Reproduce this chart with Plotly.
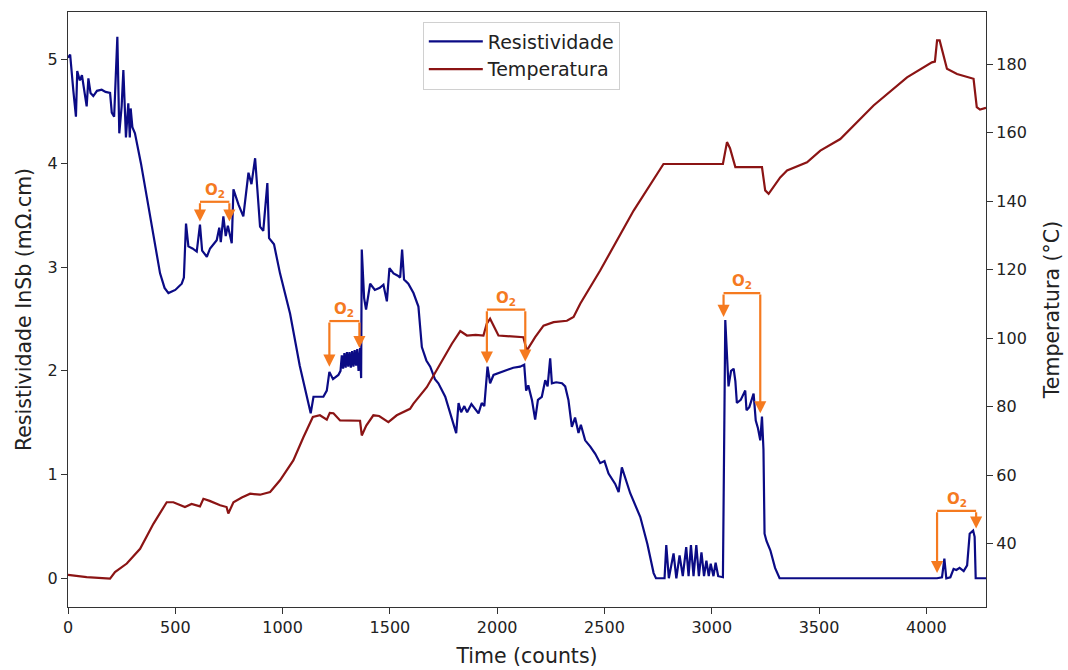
import plotly.graph_objects as go

# ---------------- data ----------------
res_time = [0, 10, 25, 37, 43, 55, 65, 75, 87, 95, 105, 118, 135, 157, 175, 196, 204, 215, 230, 239,
            250, 258, 270, 281, 288, 292, 300, 312, 340, 367, 400, 429, 450, 468, 500, 530, 540, 550,
            561, 580, 600, 615, 625, 647, 662, 693, 705, 712, 724, 735, 745, 763, 771, 795, 817, 841,
            855, 872, 895, 910, 929, 937, 960, 988, 1035, 1080, 1131, 1144, 1190, 1206, 1218, 1235,
            1260, 1270, 1276, 1282, 1288, 1294, 1300, 1306, 1312, 1318, 1324, 1330, 1336, 1342, 1348,
            1354, 1361, 1366, 1369, 1380, 1389, 1408, 1430, 1453, 1470, 1486, 1498, 1517, 1535, 1548,
            1557, 1566, 1586, 1610, 1633, 1649, 1670, 1688, 1710, 1726, 1758, 1789, 1809, 1820, 1832,
            1847, 1860, 1880, 1900, 1913, 1928, 1940, 1955, 1967, 1983, 2010, 2045, 2075, 2107, 2126,
            2135, 2145, 2162, 2177, 2190, 2208, 2224, 2235, 2247, 2255, 2275, 2302, 2317, 2332, 2348,
            2363, 2379, 2390, 2410, 2434, 2457, 2480, 2500, 2519, 2550, 2566, 2581, 2600, 2620, 2667,
            2700, 2729, 2740, 2780, 2788, 2800, 2822, 2835, 2850, 2865, 2881, 2892, 2903, 2915, 2928,
            2940, 2952, 2964, 2975, 2986, 2995, 3008, 3018, 3030, 3047, 3052, 3063, 3070, 3078, 3090,
            3102, 3110, 3117, 3135, 3156, 3162, 3175, 3195, 3205, 3215, 3226, 3234, 3241, 3246, 3255,
            3273, 3295, 3316, 4050, 4073, 4084, 4093, 4112, 4127, 4140, 4155, 4174, 4190, 4202, 4218,
            4225, 4230, 4278]
resistividade = [5.02, 5.05, 4.70, 4.45, 4.89, 4.80, 4.85, 4.70, 4.55, 4.82, 4.68, 4.65, 4.70, 4.71,
                 4.69, 4.68, 4.49, 4.45, 5.22, 4.29, 4.55, 4.90, 4.25, 4.58, 4.25, 4.53, 4.35, 4.29,
                 4.00, 3.68, 3.30, 2.94, 2.80, 2.75, 2.78, 2.84, 2.90, 3.42, 3.20, 3.18, 3.15, 3.41,
                 3.16, 3.10, 3.18, 3.26, 3.38, 3.24, 3.49, 3.30, 3.40, 3.23, 3.75, 3.60, 3.49, 3.91,
                 3.80, 4.05, 3.39, 3.35, 3.81, 3.28, 3.22, 2.94, 2.55, 2.05, 1.59, 1.75, 1.75, 1.81,
                 1.99, 1.92, 1.96, 2.00, 2.15, 2.02, 2.17, 2.03, 2.18, 2.04, 2.18, 2.03, 2.19, 2.04,
                 2.20, 2.05, 2.21, 2.00, 2.22, 1.93, 3.17, 2.70, 2.59, 2.84, 2.78, 2.80, 2.83, 2.67,
                 2.99, 2.94, 2.92, 2.90, 3.17, 2.88, 2.84, 2.75, 2.62, 2.23, 2.10, 2.04, 1.92, 1.88,
                 1.75, 1.53, 1.40, 1.69, 1.60, 1.66, 1.60, 1.68, 1.62, 1.59, 1.69, 1.66, 2.04, 1.88,
                 1.96, 1.98, 2.01, 2.03, 2.04, 2.06, 1.81, 1.86, 1.72, 1.53, 1.72, 1.75, 1.91, 1.85,
                 2.12, 1.88, 1.89, 1.88, 1.85, 1.72, 1.46, 1.55, 1.40, 1.48, 1.33, 1.27, 1.20, 1.11,
                 1.13, 1.01, 0.91, 0.83, 1.07, 0.95, 0.82, 0.59, 0.33, 0.05, 0.00, 0.00, 0.32, 0.00,
                 0.24, 0.00, 0.22, 0.02, 0.30, 0.02, 0.32, 0.02, 0.32, 0.02, 0.25, 0.02, 0.17, 0.02,
                 0.14, 0.02, 0.15, 0.02, 0.01, 0.01, 2.49, 2.20, 1.85, 2.00, 2.02, 1.90, 1.69, 1.72,
                 1.81, 1.62, 1.65, 1.78, 1.52, 1.45, 1.33, 1.56, 1.24, 0.43, 0.36, 0.27, 0.10, 0.00,
                 0.00, 0.01, 0.19, 0.00, 0.01, 0.09, 0.08, 0.10, 0.07, 0.125, 0.43, 0.46, 0.40, 0.00,
                 0.00]

temp_time = [0, 87, 196, 219, 274, 336, 398, 460, 491, 545, 576, 615, 631, 660, 709, 739, 747, 771,
             810, 849, 895, 942, 988, 1050, 1097, 1141, 1174, 1206, 1220, 1237, 1268, 1361, 1369,
             1390, 1423, 1450, 1493, 1532, 1594, 1610, 1672, 1734, 1789, 1828, 1859, 1900, 1936,
             1951, 1967, 2006, 2076, 2122, 2138, 2177, 2216, 2263, 2325, 2356, 2387, 2480, 2636,
             2775, 2853, 3052, 3071, 3085, 3110, 3234, 3249, 3265, 3319, 3351, 3444, 3506, 3599,
             3754, 3910, 4026, 4040, 4050, 4062, 4096, 4143, 4220, 4235, 4250, 4278]
temperatura = [30.9, 30.25, 29.8, 31.7, 34.2, 38.5, 45.8, 52.1, 52.1, 50.7, 51.6, 50.9, 53.1, 52.5,
               51.2, 50.7, 48.8, 52.1, 53.5, 54.6, 54.3, 55.1, 58.5, 64.3, 71.1, 77.0, 77.5, 76.2,
               78.2, 78.1, 76.0, 75.9, 71.6, 74.5, 77.5, 77.3, 75.5, 77.5, 79.4, 80.9, 85.7, 92.6,
               98.4, 102.1, 100.8, 101.0, 100.8, 104.2, 105.7, 100.8, 100.5, 100.3, 96.4, 100.3,
               103.7, 104.7, 105.1, 106.2, 110.1, 119.8, 137.3, 150.9, 150.9, 150.9, 157.3, 155.5,
               150.0, 150.0, 143.2, 142.2, 147.0, 149.0, 151.4, 154.8, 158.2, 168.0, 176.2, 180.6,
               180.8, 187.0, 187.0, 178.7, 177.2, 175.8, 167.5, 166.8, 167.3]

x_ticks = [0, 500, 1000, 1500, 2000, 2500, 3000, 3500, 4000]
y1_ticks = [0, 1, 2, 3, 4, 5]
y2_ticks = [40, 60, 80, 100, 120, 140, 160, 180]

# O2 brackets: start time, end time, top of bracket, tip at start, tip at end (left-axis units)
o2_start = [615, 1218, 1952, 3055, 4050]
o2_end = [752, 1358, 2131, 3226, 4232]
o2_top = [3.63, 2.48, 2.59, 2.75, 0.65]
o2_tip_start = [3.44, 2.04, 2.07, 2.52, 0.05]
o2_tip_end = [3.44, 2.22, 2.09, 1.59, 0.48]

# ---------------- figure ----------------
FONT = "DejaVu Sans"
BLUE = "#0b0b85"
RED = "#8b1414"
ORANGE = "#F57A1F"
AXC = "#333333"
TXT = "#222222"

fig = go.Figure()
fig.add_trace(go.Scatter(x=res_time, y=resistividade, mode="lines", name="Resistividade",
                         line=dict(color=BLUE, width=2.2), yaxis="y"))
fig.add_trace(go.Scatter(x=temp_time, y=temperatura, mode="lines", name="Temperatura",
                         line=dict(color=RED, width=2.2), yaxis="y2"))

annotations = []
shapes = []
for xs, xe, top, ts, te in zip(o2_start, o2_end, o2_top, o2_tip_start, o2_tip_end):
    shapes.append(dict(type="line", xref="x", yref="y", x0=xs, x1=xe, y0=top, y1=top,
                       line=dict(color=ORANGE, width=2.2)))
    for xx, tip in ((xs, ts), (xe, te)):
        annotations.append(dict(x=xx, y=tip, ax=xx, ay=top, xref="x", yref="y", axref="x", ayref="y",
                                text="", showarrow=True, arrowhead=2, arrowsize=1.1, arrowwidth=2.2,
                                arrowcolor=ORANGE))
    annotations.append(dict(x=(xs + xe) / 2, y=top, xref="x", yref="y", text="<b>O<sub>2</sub></b>",
                            showarrow=False, yanchor="bottom", yshift=0,
                            font=dict(family=FONT, size=15, color=ORANGE)))

axis_common = dict(showgrid=False, zeroline=False, showline=True, linecolor=AXC, linewidth=1.3,
                   ticks="outside", ticklen=6, tickcolor=AXC, automargin=False,
                   tickfont=dict(family=FONT, size=16, color=TXT))
TITLE_FONT = dict(family=FONT, size=20.5, color=TXT)

fig.update_layout(
    width=1068, height=670,
    margin=dict(l=68, r=82, t=12, b=63),
    paper_bgcolor="white", plot_bgcolor="white",
    font=dict(family=FONT, size=16, color=TXT),
    showlegend=True,
    legend=dict(x=0.3865, y=0.984, xanchor="left", yanchor="top",
                bgcolor="rgba(255,255,255,0.9)", bordercolor="#d0d0d0", borderwidth=1,
                itemwidth=54, font=dict(family=FONT, size=19, color=TXT), tracegroupgap=0),
    xaxis=dict(range=[0, 4278], tickvals=x_ticks, mirror=True,
               title=dict(text="Time (counts)", standoff=12, font=TITLE_FONT),
               **axis_common),
    yaxis=dict(range=[-0.277, 5.46], tickvals=y1_ticks,
               title=dict(text="Resistividade InSb (mΩ.cm)", standoff=10, font=TITLE_FONT),
               **axis_common),
    yaxis2=dict(range=[21.5, 195.3], tickvals=y2_ticks, overlaying="y", side="right", anchor="x",
                title=dict(text="Temperatura (°C)", standoff=18, font=TITLE_FONT),
                **axis_common),
    shapes=shapes,
    annotations=annotations,
)

fig.write_html("out.html")
